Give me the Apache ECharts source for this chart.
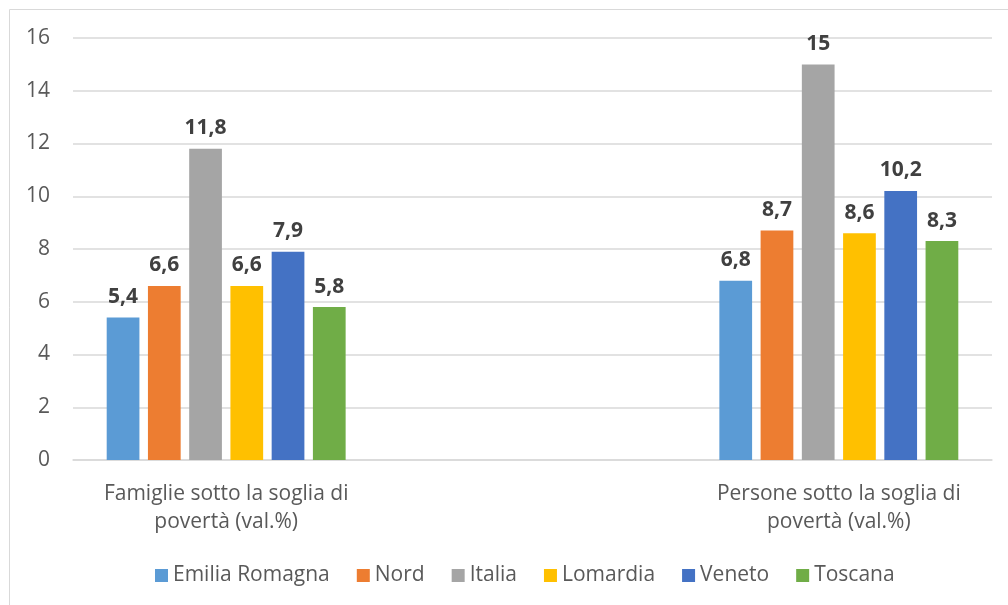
<!DOCTYPE html>
<html>
<head>
<meta charset="utf-8">
<script src="https://cdn.jsdelivr.net/npm/echarts@6/dist/echarts.min.js"></script>
<style>
  html, body { margin: 0; padding: 0; background: #fff; }
  #chart { width: 1008px; height: 605px; }
</style>
</head>
<body>
<div id="chart"></div>
<script>
// categorie (la colonna centrale è vuota come nel grafico originale)
const categories = ['Famiglie sotto la soglia di\npovertà (val.%)', '', 'Persone sotto la soglia di\npovertà (val.%)']
const seriesNames = ['Emilia Romagna', 'Nord', 'Italia', 'Lomardia', 'Veneto', 'Toscana']
const colors = ['#5b9bd5', '#ed7d31', '#a5a5a5', '#ffc000', '#4472c4', '#70ad47']
const emiliaRomagna = [5.4, null, 6.8]
const nord = [6.6, null, 8.7]
const italia = [11.8, null, 15]
const lomardia = [6.6, null, 8.6]
const veneto = [7.9, null, 10.2]
const toscana = [5.8, null, 8.3]
const yTicks = { min: 0, max: 16, interval: 2 }

const values = [emiliaRomagna, nord, italia, lomardia, veneto, toscana]
const font = 'Open Sans, Noto Sans, sans-serif'

const myChart = echarts.init(document.getElementById('chart'))
const option = {
  animation: false,
  textStyle: { fontFamily: font },
  graphic: [{
    type: 'rect',
    shape: { x: 9.5, y: 9.5, width: 1100, height: 700 },
    style: { fill: 'none', stroke: '#d9d9d9', lineWidth: 1 },
    silent: true
  }],
  grid: { left: 73, right: 16, top: 38, bottom: 145 },
  legend: {
    data: seriesNames,
    bottom: 14,
    left: 150,
    itemWidth: 13,
    itemHeight: 13,
    itemGap: 27,
    icon: 'rect',
    textStyle: { fontSize: 21, color: '#595959', fontFamily: font }
  },
  xAxis: {
    type: 'category',
    data: categories,
    axisLine: { lineStyle: { color: '#d9d9d9', width: 1.5 } },
    axisTick: { show: false },
    axisLabel: { color: '#595959', fontSize: 21, lineHeight: 28, margin: 20, interval: 0, fontFamily: font }
  },
  yAxis: {
    type: 'value',
    min: yTicks.min,
    max: yTicks.max,
    interval: yTicks.interval,
    axisLine: { show: false },
    axisTick: { show: false },
    splitLine: { lineStyle: { color: '#d9d9d9', width: 1.5 } },
    axisLabel: { color: '#595959', fontSize: 21, margin: 23, fontFamily: font }
  },
  series: seriesNames.map((name, i) => ({
    name: name,
    type: 'bar',
    data: values[i],
    barCategoryGap: '22%',
    barGap: '26%',
    itemStyle: { color: colors[i] },
    label: {
      show: true,
      position: 'top',
      distance: 10,
      color: '#404040',
      fontSize: 21,
      fontWeight: 'bold',
      fontFamily: font,
      formatter: p => String(p.value).replace('.', ',')
    }
  }))
}
myChart.setOption(option)
</script>
</body>
</html>
